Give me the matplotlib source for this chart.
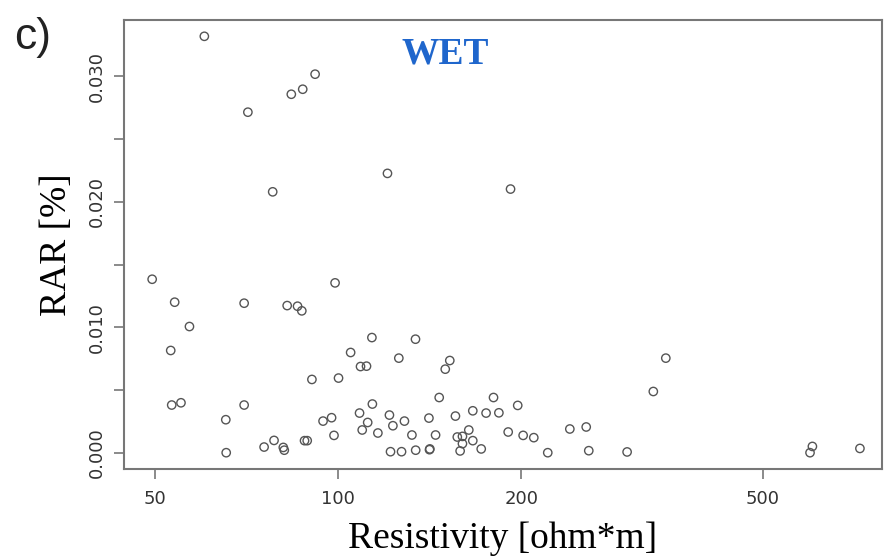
import numpy as np
import matplotlib
matplotlib.use("Agg")
from matplotlib import pyplot as plt
from matplotlib.ticker import FixedLocator, NullLocator, FixedFormatter

# resistivity [ohm*m] and RAR [%]
resistivity = [60.2, 71.0, 83.7, 87.4, 91.6, 78.0, 49.4, 98.8, 120.5, 192.1,
               53.8, 70.0, 82.4, 85.7, 87.1, 56.9, 53.0, 90.5, 100.1,
               53.2, 55.1, 70.0, 65.3, 65.4, 75.5, 78.4, 81.2, 81.5, 88.0, 88.9,
               94.4, 97.5, 98.4,
               113.6, 134.0, 104.8, 108.8, 111.3, 125.8, 152.6, 150.0, 146.6,
               180.1, 197.4, 113.8, 108.4, 121.4, 141.0, 155.9, 166.5, 175.1,
               183.8, 111.8, 128.5, 123.0, 109.5, 116.2, 132.2, 144.6, 157.0,
               160.1, 164.0, 166.5, 160.1, 171.9, 158.7, 190.4, 201.5, 121.9,
               127.1, 134.1, 141.3, 141.5,
               346.0, 330.0, 240.5, 255.9, 209.8, 221.2, 258.4, 298.8,
               603.0, 597.6, 722.0]
rar = [0.0332, 0.02715, 0.02858, 0.02898, 0.03018, 0.0208, 0.01383, 0.01354, 0.02227, 0.02102,
       0.0120, 0.01192, 0.01173, 0.01168, 0.01131, 0.01006, 0.00815, 0.00584, 0.00595,
       0.0038, 0.00398, 0.0038, 0.00263, 0.0, 0.00045, 0.00098, 0.00042, 0.0002, 0.00096, 0.00096,
       0.00252, 0.00279, 0.00138,
       0.00918, 0.00905, 0.00799, 0.00687, 0.0069, 0.00754, 0.00735, 0.00666, 0.0044,
       0.0044, 0.00377, 0.00388, 0.00316, 0.0030, 0.00276, 0.00292, 0.00334, 0.00316,
       0.00318, 0.00241, 0.00252, 0.00215, 0.00181, 0.00157, 0.00141, 0.00141, 0.00125,
       0.0013, 0.00181, 0.00096, 0.00072, 0.0003, 0.00014, 0.00165, 0.00138, 0.00008,
       0.00008, 0.0002, 0.00024, 0.0003,
       0.00754, 0.00488, 0.00189, 0.00205, 0.0012, 0.0, 0.00016, 0.00006,
       0.0005, 0.0, 0.00034]

xticks = [50, 100, 200, 500]
yticks = [0.0, 0.01, 0.02, 0.03]
ytick_labels = ["0.000", "0.010", "0.020", "0.030"]

fig = plt.figure(figsize=(8.84, 5.57), dpi=100)
ax = fig.add_axes([124/884, 1-469/557, (882-124)/884, (469-20)/557])

ax.scatter(resistivity, rar, s=36, facecolors="none", edgecolors="#555555", linewidths=1.0)

ax.set_xscale("log")
ax.set_xlim(44.4, 785)
ax.set_ylim(-0.0013, 0.0345)

ax.xaxis.set_major_locator(FixedLocator(xticks))
ax.xaxis.set_major_formatter(FixedFormatter([str(v) for v in xticks]))
ax.xaxis.set_minor_locator(NullLocator())
ax.yaxis.set_major_locator(FixedLocator(yticks))
ax.yaxis.set_major_formatter(FixedFormatter(ytick_labels))
ax.yaxis.set_minor_locator(FixedLocator([0.005, 0.015, 0.025]))

for s in ax.spines.values():
    s.set_color("#777777")
    s.set_linewidth(1.5)

ax.tick_params(axis="both", which="both", direction="out", length=7, width=1.2,
               color="#777777", labelcolor="#333333", labelsize=13)
ax.tick_params(axis="x", pad=8)
ax.tick_params(axis="y", pad=6)
for lab in ax.get_yticklabels():
    lab.set_rotation(90)
    lab.set_va("center")

ax.set_xlabel("Resistivity [ohm*m]", family="Liberation Serif", fontsize=27, labelpad=10)
ax.set_ylabel("RAR [%]", family="Liberation Serif", fontsize=27, labelpad=10)

ax.text(0.4235, 0.925, "WET", transform=ax.transAxes, ha="center", va="center",
        family="Liberation Serif", fontweight="bold", fontsize=27, color="#1f66cc")
fig.text(14/884, 1-38/557, "c)", ha="left", va="center", fontsize=32,
         family="Liberation Sans", color="#222222")

plt.savefig("out.png", dpi=100)
